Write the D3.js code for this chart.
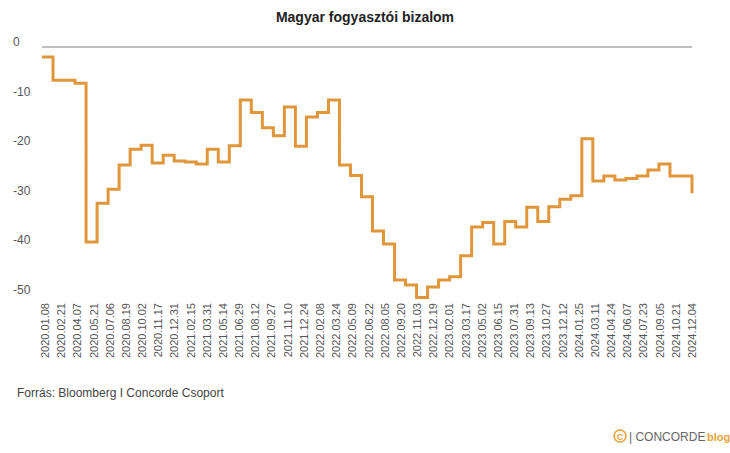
<!DOCTYPE html>
<html>
<head>
<meta charset="utf-8">
<script src="https://cdn.jsdelivr.net/npm/d3@7"></script>
<style>
  body { margin: 0; background: #fff; font-family: "Liberation Sans", Arial, sans-serif; }
</style>
</head>
<body>
<svg id="chart" width="730" height="453"></svg>
<script>
// monthly values, 2020.01 .. 2024.12
const values = [
    -2, -6.7, -6.7, -7.3, -39.3, -31.5, -28.7, -23.8, -20.6, -19.8, -23.4, -21.8,
    -23, -23.2, -23.6, -20.6, -23.2, -19.9, -10.7, -13.2, -16.3, -17.9, -12.1, -20,
    -14.1, -13.2, -10.7, -23.8, -25.9, -30.2, -37.1, -39.7, -47, -48, -50.5, -48.4,
    -47, -46.3, -42.1, -36.3, -35.4, -39.7, -35.2, -36.3, -32.3, -35.2, -32.2, -30.7,
    -30, -18.5, -27, -26, -26.8, -26.5, -26, -24.8, -23.6, -26, -26, -29.5
];
const tickLabels = [
    '2020.01.08', '2020.02.21', '2020.04.07', '2020.05.21', '2020.07.06', '2020.08.19',
    '2020.10.02', '2020.11.17', '2020.12.31', '2021.02.15', '2021.03.31', '2021.05.14',
    '2021.06.29', '2021.08.12', '2021.09.27', '2021.11.10', '2021.12.24', '2022.02.08',
    '2022.03.24', '2022.05.09', '2022.06.22', '2022.08.05', '2022.09.20', '2022.11.03',
    '2022.12.19', '2023.02.01', '2023.03.17', '2023.05.02', '2023.06.15', '2023.07.31',
    '2023.09.13', '2023.10.27', '2023.12.12', '2024.01.25', '2024.03.11', '2024.04.24',
    '2024.06.07', '2024.07.23', '2024.09.05', '2024.10.21', '2024.12.04'
];
const yTicks = [0, -10, -20, -30, -40, -50];

const svg = d3.select('#chart');
const plotLeft = 42, plotRight = 692, plotTop = 47, plotBottom = 295;

const x = d3.scaleLinear().domain([0, values.length - 1]).range([plotLeft, plotRight]);
const y = d3.scaleLinear().domain([-50, 0]).range([plotBottom, plotTop]);
const xt = d3.scalePoint().domain(tickLabels).range([plotLeft + 3, plotRight]);

// title
svg.append('text')
    .attr('x', 365).attr('y', 22)
    .attr('text-anchor', 'middle')
    .style('font-size', '14px').style('font-weight', 'bold').style('fill', '#222')
    .text('Magyar fogyasztói bizalom');

// zero line
svg.append('line')
    .attr('x1', plotLeft).attr('x2', plotRight)
    .attr('y1', y(0)).attr('y2', y(0))
    .style('stroke', '#aaa').style('stroke-width', 1.5);

// y labels
svg.selectAll('.ylab').data(yTicks).enter().append('text')
    .attr('class', 'ylab')
    .attr('x', 13).attr('y', d => y(d) - 1)
    .style('font-size', '12px').style('fill', '#555')
    .text(d => d);

// x labels
svg.selectAll('.xlab').data(tickLabels).enter().append('text')
    .attr('class', 'xlab')
    .attr('transform', d => `translate(${xt(d) + 4},${plotBottom + 8}) rotate(-90)`)
    .attr('text-anchor', 'end')
    .style('font-size', '11px').style('fill', '#555')
    .text(d => d);

// line
const line = d3.line()
    .x((d, i) => x(i))
    .y(d => y(d))
    .curve(d3.curveStepAfter);

svg.append('path')
    .datum(values)
    .attr('d', line)
    .style('fill', 'none')
    .style('stroke', '#E0963A')
    .style('stroke-width', 3);

// source
svg.append('text')
    .attr('x', 17).attr('y', 397)
    .style('font-size', '12px').style('fill', '#444')
    .text('Forrás: Bloomberg I Concorde Csoport');

// logo
const logo = svg.append('g').attr('transform', 'translate(620,436)');
logo.append('circle').attr('cx', 0).attr('cy', 0).attr('r', 6)
    .style('fill', 'none').style('stroke', '#E8A23A').style('stroke-width', 1.5);
logo.append('text').attr('x', 0).attr('y', 3.5).attr('text-anchor', 'middle')
    .style('font-size', '9px').style('font-weight', 'bold').style('fill', '#E8A23A').text('C');
logo.append('text').attr('x', 9).attr('y', 4.5)
    .style('font-size', '12px').style('fill', '#666').text('| CONCORDE');
logo.append('text').attr('x', 87).attr('y', 4.5)
    .style('font-size', '11px').style('font-weight', 'bold').style('fill', '#E8A23A').text('blog');
</script>
</body>
</html>
